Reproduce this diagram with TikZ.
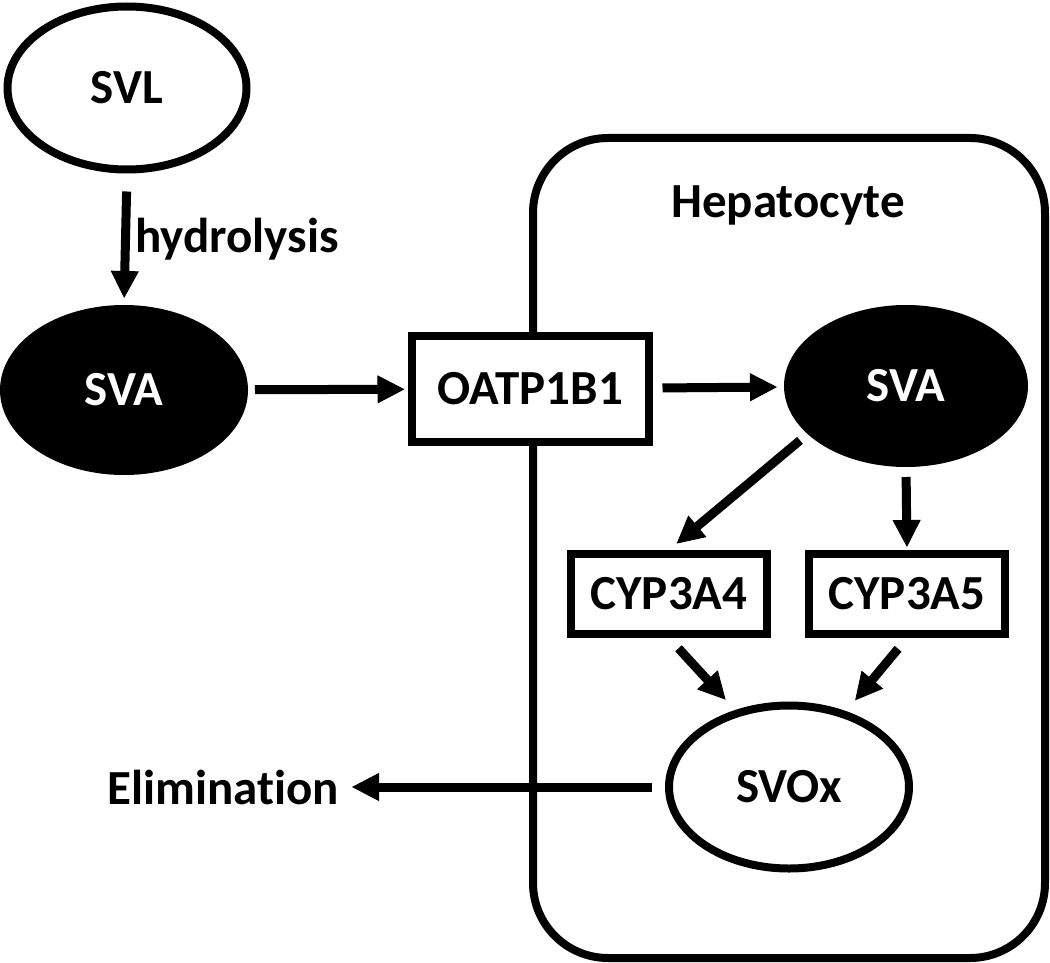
\documentclass[tikz,border=0pt]{standalone}
\usepackage{fontspec}
\setmainfont{Carlito}[Ligatures=NoCommon]
\usetikzlibrary{shapes.geometric,arrows.meta}
\begin{document}
\begin{tikzpicture}[x=1pt, y=-1pt, font=\fontsize{49}{58}\selectfont\bfseries,
  pale/.style = {draw, ellipse, line width=8pt, fill=white},
  dark/.style = {draw, ellipse, line width=8pt, fill=black, text=white},
  enz/.style = {draw, rectangle, line width=8pt, fill=white},
  arr/.style = {line width=9pt, -{Triangle[length=27pt, width=28pt, line width=1pt]}}]
\useasboundingbox (0,0) rectangle (1050,963);
% liver cell
\node[draw, line width=8pt, rounded corners=75pt, minimum width=512pt, minimum height=820pt] (cell) at (789,548) {};
\node[anchor=base] (hep) at (788,217) {Hepatocyte};
% nodes
\node[pale, minimum width=239pt, minimum height=163pt] (svl) at (127,88) {SVL};
\node[dark, minimum width=240pt, minimum height=162pt] (sval) at (124,390) {SVA};
\node[enz, minimum width=237pt, minimum height=106pt] (oatp) at (530,389) {OATP1B1};
\node[dark, minimum width=236pt, minimum height=154pt] (svar) at (906,386) {SVA};
\node[enz, minimum width=196pt, minimum height=80pt] (cyp4) at (669,594) {CYP3A4};
\node[enz, minimum width=196pt, minimum height=80pt] (cyp5) at (907,594) {CYP3A5};
\node[pale, minimum width=240pt, minimum height=163pt] (svox) at (789,787) {SVOx};
\node[anchor=east, inner sep=0pt] (elim) at (339,787) {Elimination};
% arrows
\draw[arr, shorten <=18pt, shorten >=7pt] (svl.south) -- node[right, xshift=2pt] {hydrolysis} (sval.north);
\draw[arr, shorten <=7pt, shorten >=3pt] (sval) -- (oatp);
\draw[arr, shorten <=10pt, shorten >=7pt] (oatp) -- (svar);
\draw[arr, shorten <=10pt, shorten >=10pt] (svar.206) -- (cyp4.north);
\draw[arr, shorten <=10pt, shorten >=3pt] (svar.south) -- (cyp5.north);
\draw[arr, shorten <=14pt, shorten >=14pt] (cyp4.south) -- (svox.125);
\draw[arr, shorten <=14pt, shorten >=14pt] (cyp5.south) -- (svox.53);
\draw[arr, shorten <=13pt, shorten >=13pt] (svox.west) -- (elim.east);
\end{tikzpicture}
\end{document}
